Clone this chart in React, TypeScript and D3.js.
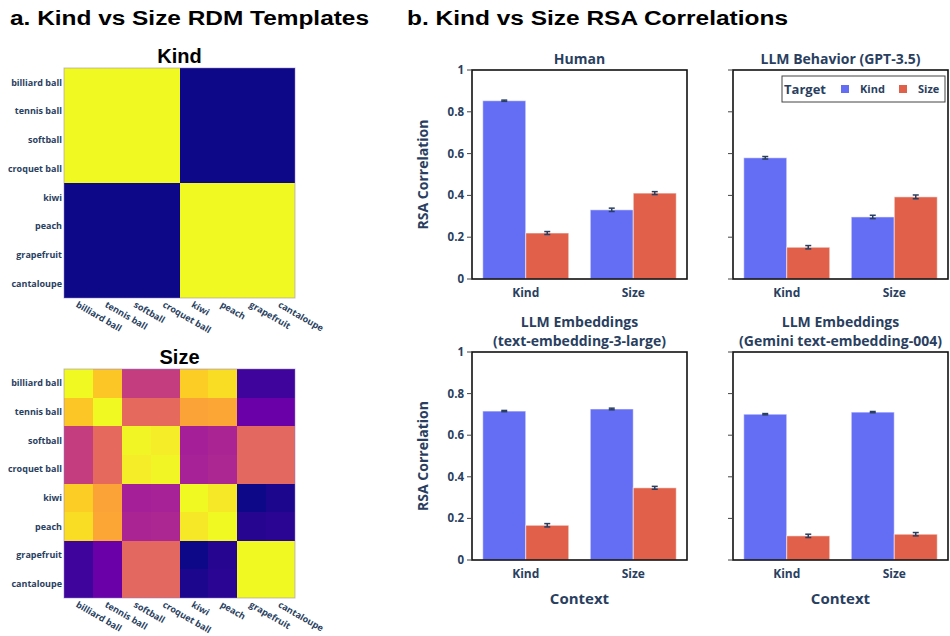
import React from 'react';
import * as d3 from 'd3';

// object names shared by both RDM templates
const items = ['billiard ball', 'tennis ball', 'softball', 'croquet ball', 'kiwi', 'peach', 'grapefruit', 'cantaloupe'];

// kind template: balls vs fruit
const kindRdm = [
  [1, 1, 1, 1, 0, 0, 0, 0],
  [1, 1, 1, 1, 0, 0, 0, 0],
  [1, 1, 1, 1, 0, 0, 0, 0],
  [1, 1, 1, 1, 0, 0, 0, 0],
  [0, 0, 0, 0, 1, 1, 1, 1],
  [0, 0, 0, 0, 1, 1, 1, 1],
  [0, 0, 0, 0, 1, 1, 1, 1],
  [0, 0, 0, 0, 1, 1, 1, 1],
];

// size template (similarity)
const sizeRdm = [
  [1.0, 0.88, 0.47, 0.47, 0.9, 0.93, 0.09, 0.09],
  [0.88, 1.0, 0.62, 0.62, 0.79, 0.8, 0.2, 0.2],
  [0.47, 0.62, 0.99, 0.97, 0.36, 0.38, 0.61, 0.61],
  [0.47, 0.62, 0.97, 0.99, 0.37, 0.39, 0.61, 0.61],
  [0.9, 0.79, 0.36, 0.37, 1.0, 0.96, 0.0, 0.02],
  [0.93, 0.8, 0.38, 0.39, 0.96, 1.0, 0.04, 0.05],
  [0.09, 0.2, 0.61, 0.61, 0.0, 0.04, 1.0, 1.0],
  [0.09, 0.2, 0.61, 0.61, 0.02, 0.05, 1.0, 1.0],
];

const contexts = ['Kind', 'Size'];
const targets = ['Kind', 'Size'];
const targetColors = ['#646ef5', '#e0604a'];

const panelTitles = [
  ['Human'],
  ['LLM Behavior (GPT-3.5)'],
  ['LLM Embeddings', '(text-embedding-3-large)'],
  ['LLM Embeddings', '(Gemini text-embedding-004)'],
];

// per panel, values for context Kind / Size
const kindTargetMeans = [[0.853, 0.331], [0.58, 0.297], [0.716, 0.726], [0.701, 0.711]];
const sizeTargetMeans = [[0.22, 0.411], [0.152, 0.393], [0.167, 0.347], [0.116, 0.124]];
const kindTargetErrors = [[0.003, 0.008], [0.006, 0.008], [0.003, 0.004], [0.003, 0.003]];
const sizeTargetErrors = [[0.007, 0.007], [0.008, 0.009], [0.008, 0.007], [0.008, 0.008]];

const yTicks = [0, 0.2, 0.4, 0.6, 0.8, 1];

const plotlyText = '#2a3f5f';
const openSans = '"Open Sans", sans-serif';
const helv = '"Liberation Sans", Arial, sans-serif';

function Heatmap({ x0, y0, w, h, matrix, title }) {
  const xb = d3.scaleBand().domain(items).range([x0, x0 + w]);
  const yb = d3.scaleBand().domain(items).range([y0, y0 + h]);
  const color = d3.scaleSequential(d3.interpolatePlasma).domain([0, 1]);
  return (
    <g>
      <text x={x0 + w / 2} y={y0 - 5} textAnchor="middle" fontFamily={helv} fontWeight="bold" fontSize={20} fill="#000">
        {title}
      </text>
      <g shapeRendering="crispEdges">
        {matrix.map((row, i) =>
          row.map((v, j) => (
            <rect
              key={`${i}-${j}`}
              x={xb(items[j])}
              y={yb(items[i])}
              width={xb.bandwidth() + (j < items.length - 1 ? 1 : 0)}
              height={yb.bandwidth() + (i < items.length - 1 ? 1 : 0)}
              fill={color(v)}
            />
          ))
        )}
      </g>
      <rect x={x0} y={y0} width={w} height={h} fill="none" stroke="rgba(140,120,200,0.5)" strokeWidth={1} />
      {items.map((name) => (
        <text
          key={'r' + name}
          x={x0 - 2}
          y={yb(name) + yb.bandwidth() / 2}
          dy="0.35em"
          textAnchor="end"
          fontFamily={openSans}
          fontWeight="bold"
          fontSize={9}
          fill={plotlyText}
        >
          {name}
        </text>
      ))}
      {items.map((name) => (
        <text
          key={'c' + name}
          transform={`translate(${xb(name) + xb.bandwidth() / 2},${y0 + h + 3}) rotate(30)`}
          dy="0.7em"
          textAnchor="start"
          fontFamily={openSans}
          fontWeight="bold"
          fontSize={9}
          fill={plotlyText}
        >
          {name}
        </text>
      ))}
    </g>
  );
}

function BarPanel({ idx, left, top, width, height, showYLabels, showXTitle, legend }) {
  const x0 = d3.scaleBand().domain(contexts).range([left, left + width]).paddingInner(0.2).paddingOuter(0.1);
  const x1 = d3.scaleBand().domain(targets).range([0, x0.bandwidth()]);
  const y = d3.scaleLinear().domain([0, 1]).range([top + height, top]);
  const means = [kindTargetMeans[idx], sizeTargetMeans[idx]];
  const errs = [kindTargetErrors[idx], sizeTargetErrors[idx]];
  const lines = panelTitles[idx];
  const cx = left + width / 2;

  return (
    <g>
      {lines.map((t, k) => (
        <text
          key={t}
          x={cx}
          y={top - 11 - (lines.length - 1 - k) * 19}
          dy="0.35em"
          textAnchor="middle"
          fontFamily={openSans}
          fontWeight="bold"
          fontSize={14}
          fill={plotlyText}
        >
          {t}
        </text>
      ))}
      {contexts.map((c, ci) =>
        targets.map((t, ti) => {
          const v = means[ti][ci];
          const e = errs[ti][ci];
          const bx = x0(c) + x1(t);
          const mx = bx + x1.bandwidth() / 2;
          return (
            <g key={c + t}>
              <rect
                x={bx}
                y={y(v)}
                width={x1.bandwidth()}
                height={y(0) - y(v)}
                fill={targetColors[ti]}
                stroke="rgba(255,255,255,0.55)"
                strokeWidth={1}
              />
              <line x1={mx} x2={mx} y1={y(v - e)} y2={y(v + e)} stroke="#2a3f5f" strokeWidth={1.5} />
              <line x1={mx - 3} x2={mx + 3} y1={y(v - e)} y2={y(v - e)} stroke="#2a3f5f" strokeWidth={1.5} />
              <line x1={mx - 3} x2={mx + 3} y1={y(v + e)} y2={y(v + e)} stroke="#2a3f5f" strokeWidth={1.5} />
            </g>
          );
        })
      )}
      <rect x={left} y={top} width={width} height={height} fill="none" stroke="#111" strokeWidth={1.6} />
      {yTicks.map((t) => (
        <g key={t}>
          <line x1={left - 5} x2={left} y1={y(t)} y2={y(t)} stroke="#444" strokeWidth={1} />
          {showYLabels && (
            <text
              x={left - 8}
              y={y(t)}
              dy="0.35em"
              textAnchor="end"
              fontFamily={openSans}
              fontWeight="bold"
              fontSize={11.5}
              fill={plotlyText}
            >
              {String(t)}
            </text>
          )}
        </g>
      ))}
      {contexts.map((c) => (
        <text
          key={c}
          x={x0(c) + x0.bandwidth() / 2}
          y={top + height + 14}
          dy="0.35em"
          textAnchor="middle"
          fontFamily={openSans}
          fontWeight="bold"
          fontSize={12}
          fill={plotlyText}
        >
          {c}
        </text>
      ))}
      {showYLabels && (
        <text
          transform={`translate(${left - 49},${top + height / 2}) rotate(-90)`}
          dy="0.35em"
          textAnchor="middle"
          fontFamily={openSans}
          fontWeight="bold"
          fontSize={14}
          fill={plotlyText}
        >
          RSA Correlation
        </text>
      )}
      {showXTitle && (
        <text
          x={cx}
          y={top + height + 39}
          dy="0.35em"
          textAnchor="middle"
          fontFamily={openSans}
          fontWeight="bold"
          fontSize={15}
          fill={plotlyText}
        >
          Context
        </text>
      )}
      {legend && (
        <g>
          <rect x={left + 49} y={top + 6} width={163} height={26} fill="#fff" stroke="#444" strokeWidth={1} />
          <text x={left + 51} y={top + 19} dy="0.35em" fontFamily={openSans} fontWeight="bold" fontSize={13} fill={plotlyText}>
            Target
          </text>
          {targets.map((t, ti) => (
            <g key={t} transform={`translate(${left + 108 + ti * 58},${top + 19})`}>
              <rect x={0} y={-4} width={8} height={8} fill={targetColors[ti]} />
              <text x={19} dy="0.35em" fontFamily={openSans} fontWeight="bold" fontSize={11} fill={plotlyText}>
                {t}
              </text>
            </g>
          ))}
        </g>
      )}
    </g>
  );
}

export default function App() {
  return (
    <svg
      width={950}
      height={636}
      style={{ position: 'absolute', left: 0, top: 0, background: '#fff' }}
    >
      <rect width={950} height={636} fill="#fff" />
      <text x={10} y={25} fontFamily={helv} fontWeight="bold" fontSize={20} textLength={359} lengthAdjust="spacingAndGlyphs" fill="#000">
        a. Kind vs Size RDM Templates
      </text>
      <text x={407} y={25} fontFamily={helv} fontWeight="bold" fontSize={20} textLength={381} lengthAdjust="spacingAndGlyphs" fill="#000">
        b. Kind vs Size RSA Correlations
      </text>

      <Heatmap x0={64} y0={68} w={231} h={230} matrix={kindRdm} title="Kind" />
      <Heatmap x0={64} y0={369} w={231} h={229} matrix={sizeRdm} title="Size" />

      <BarPanel idx={0} left={472} top={70} width={215} height={209} showYLabels showXTitle={false} legend={false} />
      <BarPanel idx={1} left={733} top={70} width={215} height={209} showYLabels={false} showXTitle={false} legend />
      <BarPanel idx={2} left={472} top={352} width={215} height={208} showYLabels showXTitle legend={false} />
      <BarPanel idx={3} left={733} top={352} width={215} height={208} showYLabels={false} showXTitle legend={false} />
    </svg>
  );
}
